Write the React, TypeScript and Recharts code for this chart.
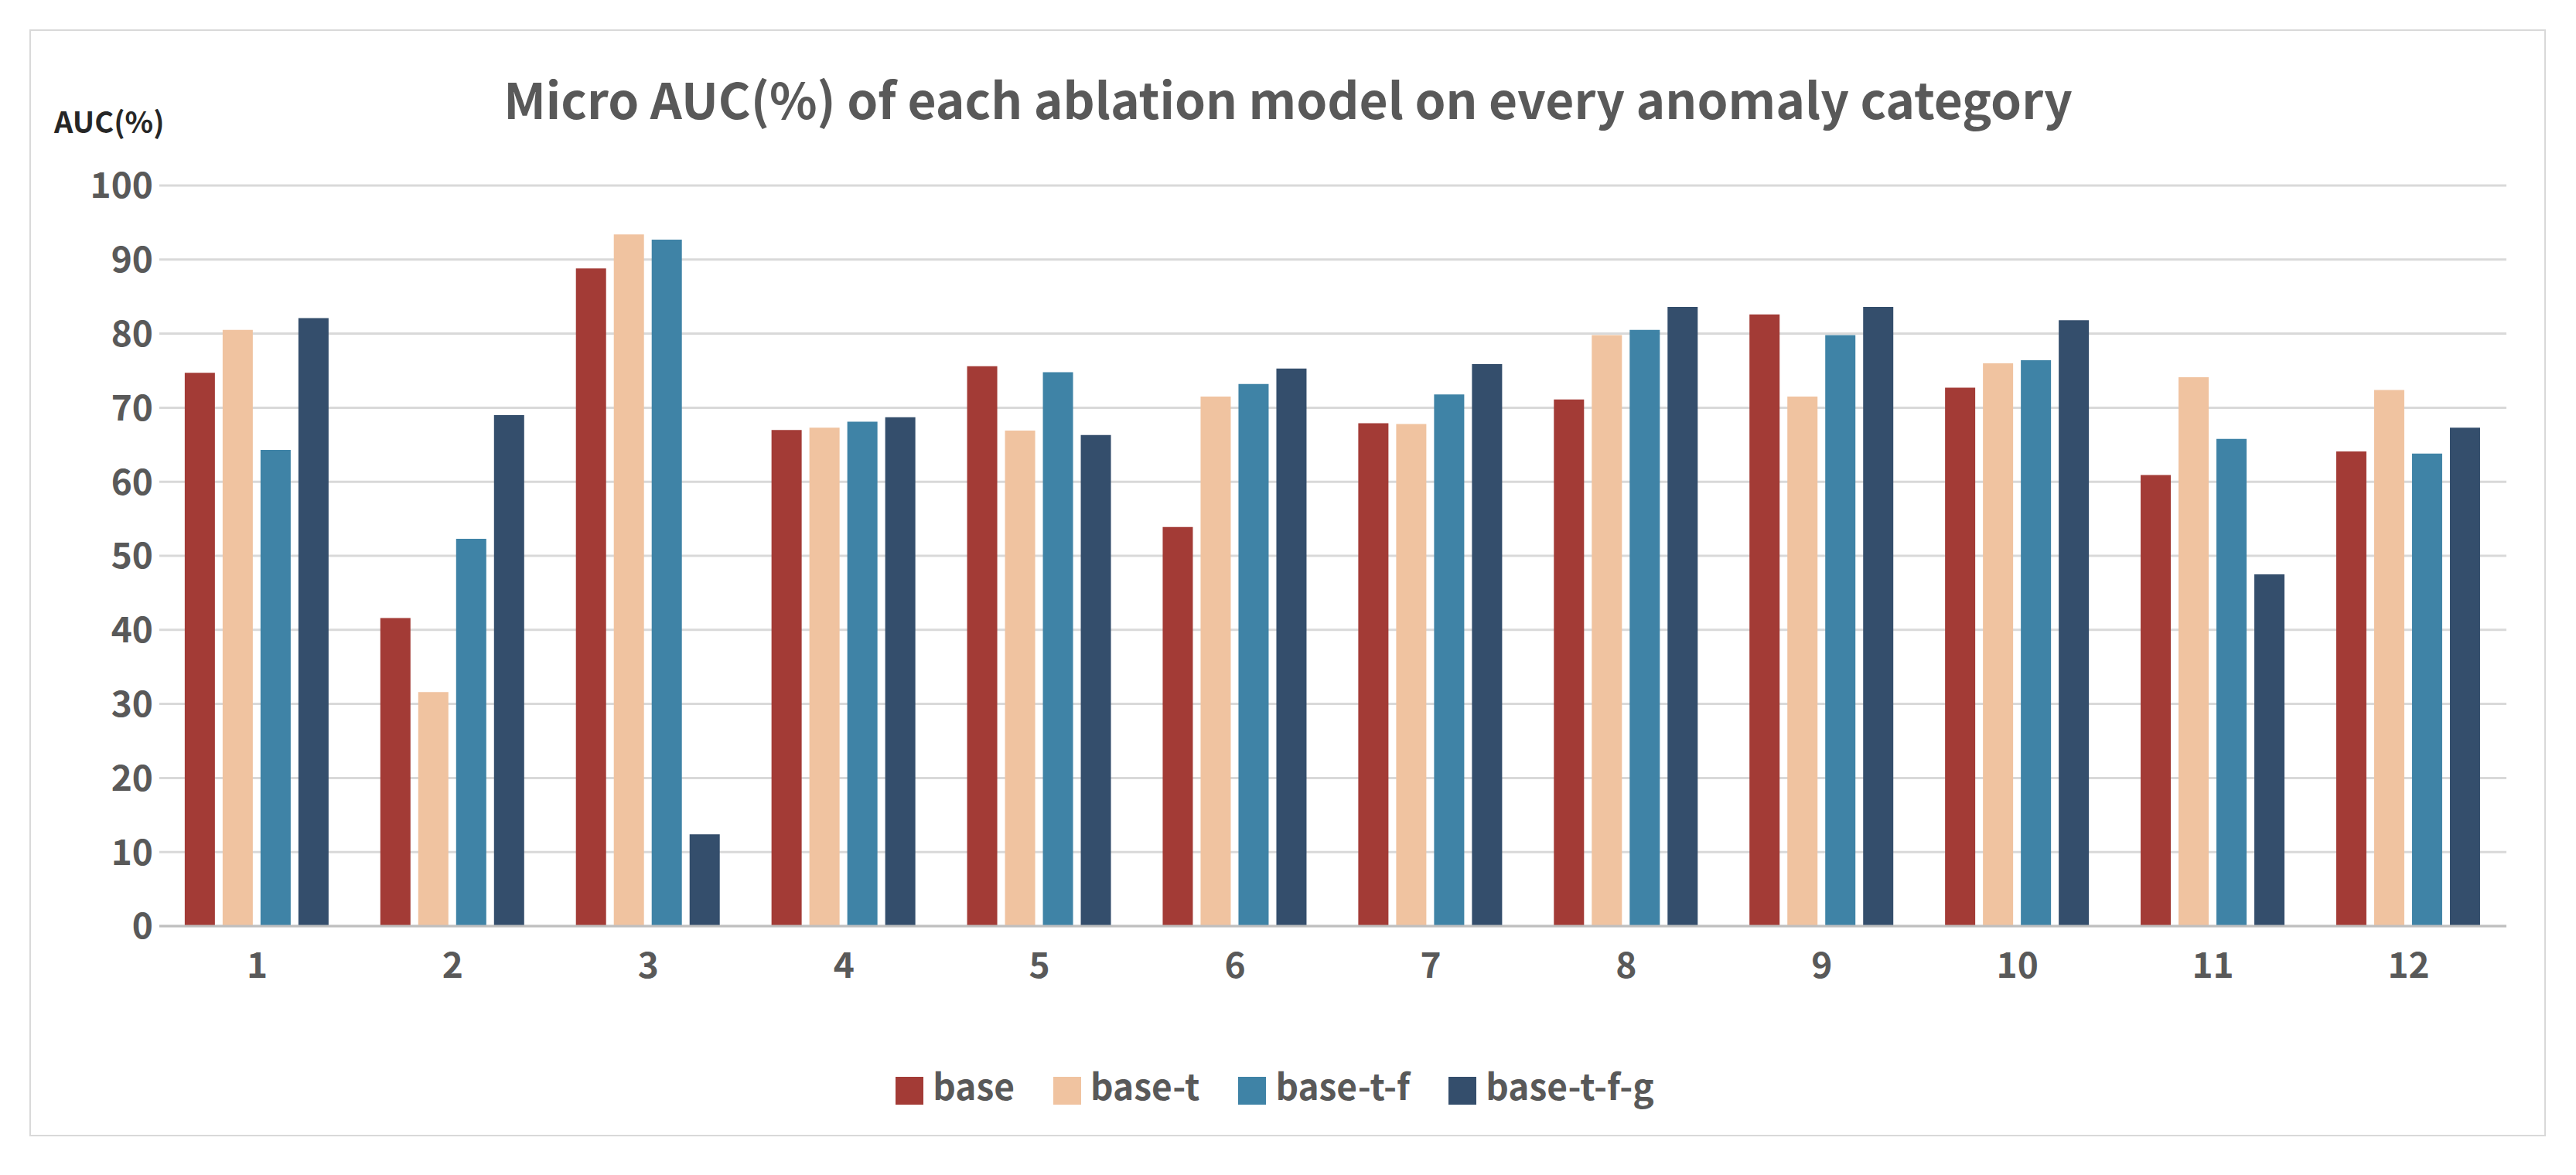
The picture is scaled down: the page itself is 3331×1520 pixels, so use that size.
import { Bar, BarChart, CartesianGrid, Legend, XAxis, YAxis } from "recharts";

const categories = ["1", "2", "3", "4", "5", "6", "7", "8", "9", "10", "11", "12"];
const base = [74.7, 41.6, 88.8, 67.0, 75.6, 53.9, 67.9, 71.1, 82.6, 72.7, 60.9, 64.1];
const baseT = [80.5, 31.6, 93.4, 67.3, 66.9, 71.5, 67.8, 79.8, 71.5, 76.0, 74.1, 72.4];
const baseTF = [64.3, 52.3, 92.7, 68.1, 74.8, 73.2, 71.8, 80.5, 79.8, 76.4, 65.8, 63.8];
const baseTFG = [82.1, 69.0, 12.4, 68.7, 66.3, 75.3, 75.9, 83.6, 83.6, 81.8, 47.5, 67.3];
const yTicks = [0, 10, 20, 30, 40, 50, 60, 70, 80, 90, 100];

const data = categories.map((c, i) => ({
    cat: c,
    base: base[i],
    "base-t": baseT[i],
    "base-t-f": baseTF[i],
    "base-t-f-g": baseTFG[i],
}));

const font = "'Microsoft YaHei', 'Noto Sans CJK SC', 'Open Sans', sans-serif";

export default function App() {
    return (
        <div style={{ position: "absolute", left: 0, top: 0, width: 3331, height: 1520, background: "#fff", fontFamily: font }}>
            <div style={{ position: "absolute", left: 38, top: 38, width: 3250, height: 1428, border: "2px solid #d9d9d9" }} />
            <div style={{ position: "absolute", left: 0, width: 3331, top: 80, textAlign: "center", fontSize: 64, fontWeight: 600, color: "#595959" }}>
                Micro AUC(%) of each ablation model on every anomaly category
            </div>
            <div style={{ position: "absolute", left: 70, top: 128, fontSize: 38, fontWeight: 600, color: "#262626" }}>AUC(%)</div>
            <BarChart
                width={3331}
                height={1520}
                data={data}
                margin={{ top: 240, right: 90, left: 106, bottom: 152 }}
                barGap={10}
                barCategoryGap="13%"
                style={{ position: "absolute", left: 0, top: 0 }}
            >
                <CartesianGrid vertical={false} stroke="#d9d9d9" strokeWidth={3} />
                <XAxis dataKey="cat" tickLine={false} stroke="#bfbfbf" strokeWidth={3} height={110}
                    tick={{ fontSize: 46, fontWeight: 700, fill: "#595959", fontFamily: font }} tickMargin={28} />
                <YAxis domain={[0, 100]} ticks={yTicks} axisLine={false} tickLine={false} width={100}
                    tick={{ fontSize: 46, fontWeight: 700, fill: "#595959", fontFamily: font }} />
                <Legend verticalAlign="bottom" iconType="square" iconSize={36} height={60}
                    wrapperStyle={{ fontSize: 46, fontWeight: 700, color: "#595959", fontFamily: font, bottom: 90 }}
                    formatter={(v) => <span style={{ color: "#595959", marginLeft: 8, marginRight: 40 }}>{v}</span>} />
                <Bar dataKey="base" fill="#A33B36" isAnimationActive={false} />
                <Bar dataKey="base-t" fill="#F0C3A0" isAnimationActive={false} />
                <Bar dataKey="base-t-f" fill="#3F83A6" isAnimationActive={false} />
                <Bar dataKey="base-t-f-g" fill="#344E6C" isAnimationActive={false} />
            </BarChart>
        </div>
    );
}
